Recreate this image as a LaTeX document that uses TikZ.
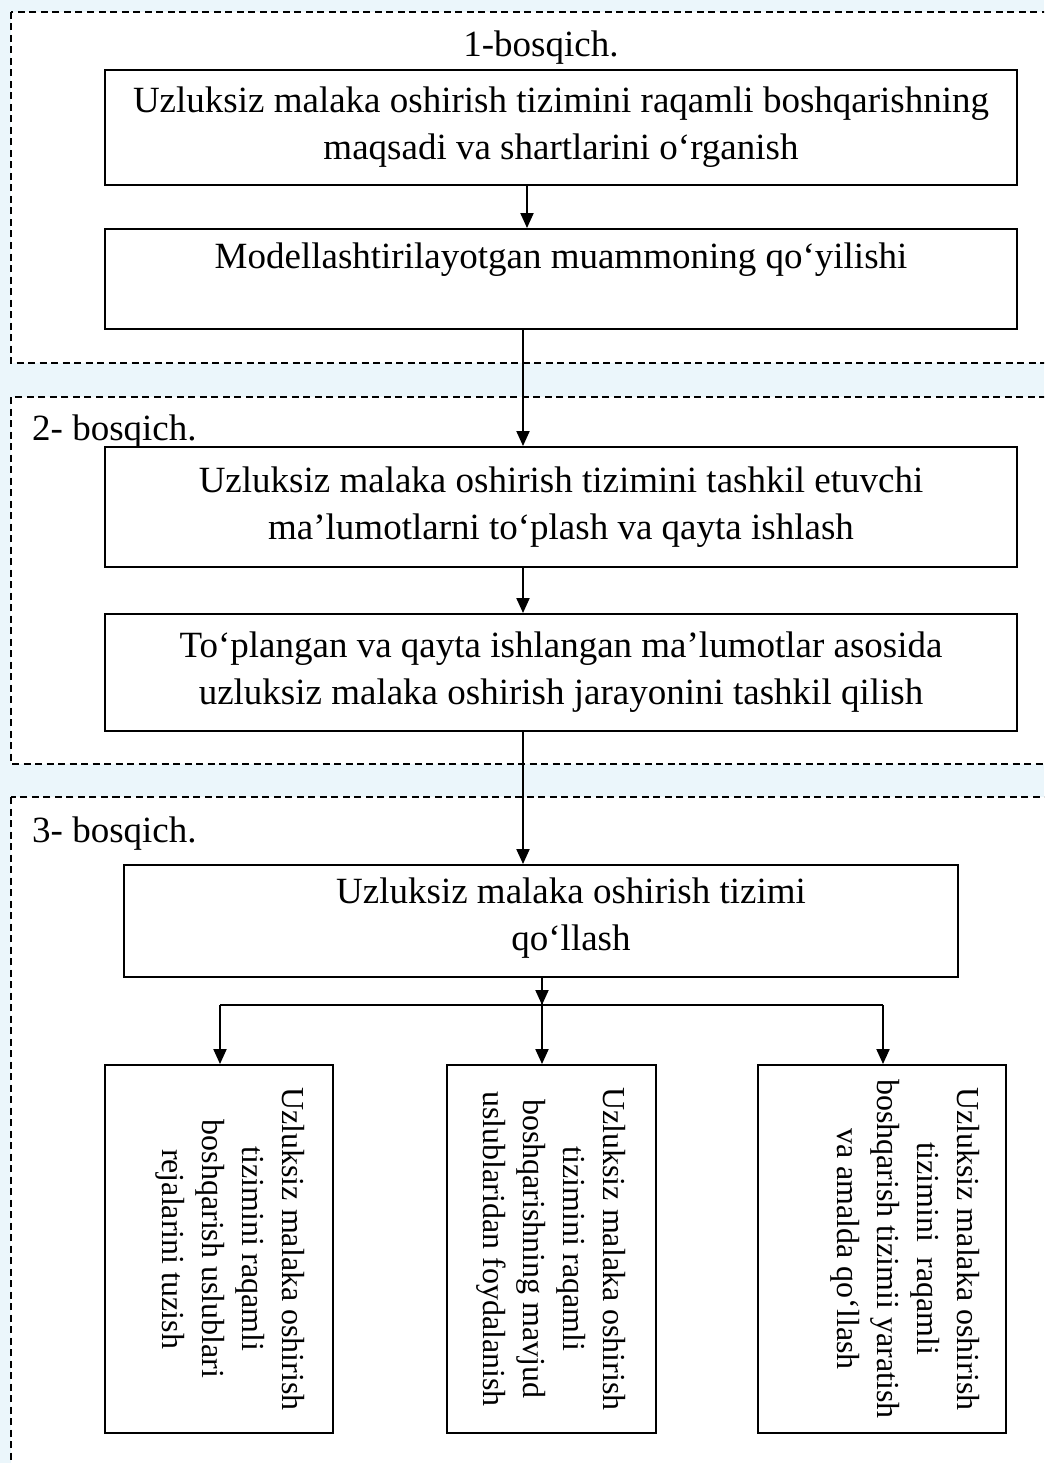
\documentclass[tikz,border=0pt]{standalone}
\usepackage{fontspec}
\setmainfont{Liberation Serif}
\usetikzlibrary{arrows.meta}
\definecolor{bgblue}{RGB}{235,246,251}
\begin{document}
\begin{tikzpicture}[x=1pt,y=-1pt,
  panel/.style={draw=black,fill=white,line width=1.3pt,dash pattern=on 7pt off 4.5pt},
  box/.style={draw=black,line width=1.9pt,inner sep=0pt,align=center,font=\fontsize{37}{47}\selectfont},
  txt/.style={inner sep=0pt,align=center,font=\fontsize{37}{47}\selectfont},
  rtxt/.style={inner sep=0pt,align=center,rotate=-90,font=\fontsize{32}{40}\selectfont},
  lbl/.style={inner sep=0pt,font=\fontsize{37}{47}\selectfont},
  arr/.style={line width=2pt,-{Triangle[width=13pt,length=15pt]}}]
\useasboundingbox (0,0) rectangle (1044,1463);
\fill[bgblue] (0,0) rectangle (1044,1463);
\clip (0,0) rectangle (1044,1463);
% stage panels
\draw[panel] (11,12) rectangle (1070,363);
\draw[panel] (11,397) rectangle (1070,764);
\draw[panel] (11,797) rectangle (1070,1500);
% labels
\node[lbl,anchor=base] (l1) at (541,57) {1-bosqich.};
\node[lbl,anchor=base west] (l2) at (32,440) {2- bosqich.};
\node[lbl,anchor=base west] (l3) at (32,842) {3- bosqich.};
% boxes
\node[box,minimum width=912pt,minimum height=115pt] (b1) at (561,127.5)
  {Uzluksiz malaka oshirish tizimini raqamli boshqarishning\\maqsadi va shartlarini o‘rganish};
\node[box,minimum width=912pt,minimum height=100pt] (b2) at (561,279)
  {Modellashtirilayotgan muammoning qo‘yilishi\\\mbox{}};
\node[box,minimum width=912pt,minimum height=120pt] (b3) at (561,507)
  {Uzluksiz malaka oshirish tizimini tashkil etuvchi\\ma’lumotlarni to‘plash va qayta ishlash};
\node[box,minimum width=912pt,minimum height=117pt] (b4) at (561,672.5)
  {To‘plangan va qayta ishlangan ma’lumotlar asosida\\uzluksiz malaka oshirish jarayonini tashkil qilish};
\node[box,minimum width=834pt,minimum height=112pt] (b5) at (541,921) {};
\node[txt] (t5) at (571,918) {Uzluksiz malaka oshirish tizimi\\qo‘llash};
\node[box,minimum width=228pt,minimum height=368pt] (bA) at (219,1249) {};
\node[box,minimum width=209pt,minimum height=368pt] (bB) at (551.5,1249) {};
\node[box,minimum width=248pt,minimum height=368pt] (bC) at (882,1249) {};
\node[rtxt] (tA) at (230,1249) {Uzluksiz malaka oshirish\\tizimini raqamli\\boshqarish uslublari\\rejalarini tuzish};
\node[rtxt] (tB) at (551.5,1249) {Uzluksiz malaka oshirish\\tizimini raqamli\\boshqarishning mavjud\\uslublaridan foydalanish};
\node[rtxt] (tC) at (905,1249) {Uzluksiz malaka oshirish\\tizimini\ \ raqamli\\boshqarish tizimii yaratish\\va amalda qo‘llash};
% connectors
\coordinate (ax) at (523,0);
\coordinate (ax1) at (527,0);
\coordinate (mx) at (542,0);
\coordinate (jL) at (220,1005);
\coordinate (jM) at (542,1005);
\coordinate (jR) at (883,1005);
\draw[arr] (b1.south -| ax1) -- (b2.north -| ax1);
\draw[arr] (b2.south -| ax) -- (b3.north -| ax);
\draw[arr] (b3.south -| ax) -- (b4.north -| ax);
\draw[arr] (b4.south -| ax) -- (b5.north -| ax);
\draw[arr] (b5.south -| mx) -- (jM);
\draw[line width=2pt] (jL) -- (jR);
\draw[arr] (jL) -- (bA.north -| jL);
\draw[arr] ([yshift=3pt]jM) -- (bB.north -| jM);
\draw[arr] (jR) -- (bC.north -| jR);
\end{tikzpicture}
\end{document}
